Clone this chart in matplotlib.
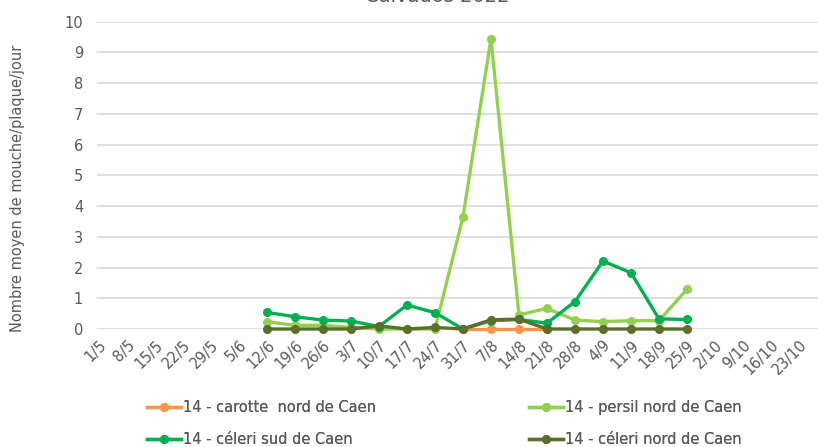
import numpy as np
import matplotlib
matplotlib.use("Agg")
import matplotlib.pyplot as plt

# ─────────────────────────────────────────────
# Data
# ─────────────────────────────────────────────
dates = ["1/5", "8/5", "15/5", "22/5", "29/5", "5/6", "12/6", "19/6", "26/6",
         "3/7", "10/7", "17/7", "24/7", "31/7", "7/8", "14/8", "21/8", "28/8",
         "4/9", "11/9", "18/9", "25/9", "2/10", "9/10", "16/10", "23/10"]

# observed weeks: 12/6 .. 25/9
obs_dates = dates[6:22]

carotte_dates = ["31/7", "7/8", "14/8", "21/8"]
carotte_nord = [0, 0, 0, 0]

persil_nord = [0.24, 0.12, 0.12, 0.05, 0.0, 0.0, 0.0, 3.64, 9.44, 0.46,
               0.67, 0.29, 0.24, 0.27, 0.27, 1.29]
celeri_sud = [0.54, 0.40, 0.29, 0.26, 0.08, 0.78, 0.53, 0.0, 0.27, 0.31,
              0.19, 0.89, 2.21, 1.83, 0.33, 0.31]
celeri_nord = [0.0, 0.0, 0.0, 0.0, 0.10, 0.0, 0.05, 0.0, 0.30, 0.32,
               0.0, 0.0, 0.0, 0.0, 0.0, 0.0]

series = [
    ("14 - carotte  nord de Caen", carotte_dates, carotte_nord, "#F79646"),
    ("14 - persil nord de Caen", obs_dates, persil_nord, "#92D050"),
    ("14 - céleri sud de Caen", obs_dates, celeri_sud, "#00B050"),
    ("14 - céleri nord de Caen", obs_dates, celeri_nord, "#5B6E2B"),
]

GREY = "#595959"
FS = 10.5

fig = plt.figure(figsize=(8.18, 4.47), dpi=100)
ax = fig.add_axes([97 / 818, 1 - 329 / 447, 1 - 97 / 818, (329 - 21.7) / 447])

pos = {d: i for i, d in enumerate(dates)}
for label, xs, ys, color in series:
    x = [pos[d] for d in xs]
    ax.plot(x, ys, color=color, lw=2.4, marker="o", ms=5.5, label=label,
            clip_on=False, zorder=3)

ax.set_xlim(-0.07, 25.68)
ax.set_ylim(0, 10)
ax.set_yticks(range(0, 11))
ax.set_xticks(range(len(dates)))
ax.set_xticklabels(dates, rotation=45, ha="right", rotation_mode="anchor")
ax.tick_params(axis="both", length=0, labelsize=FS, colors=GREY)
ax.tick_params(axis="x", pad=6)
ax.tick_params(axis="y", pad=10)
ax.grid(axis="y", color="#D9D9D9", lw=1.2)
ax.set_axisbelow(True)
for s in ax.spines.values():
    s.set_visible(False)

fig.text(18 / 818, 1 - 188 / 447, "Nombre moyen de mouche/plaque/jour",
         rotation=90, ha="center", va="center", fontsize=FS, color=GREY)

# title is mostly cropped out at the top of the picture
fig.text(437 / 818, 1 - 2.5 / 447, "Calvados 2022", ha="center", va="baseline",
         fontsize=14, color=GREY)

# legend: two columns, built as two separate legends
handles, labels = ax.get_legend_handles_labels()
for col, xpos in enumerate([147 / 818, 529 / 818]):
    leg = fig.legend([handles[col], handles[col + 2]],
                     [labels[col], labels[col + 2]],
                     loc="upper left", bbox_to_anchor=(xpos, 1 - 400 / 447),
                     frameon=False, fontsize=FS, labelcolor=GREY,
                     handlelength=2.3, handletextpad=0.2, labelspacing=1.2,
                     borderpad=0, borderaxespad=0)
    fig.add_artist(leg)

fig.savefig("out.png", dpi=100)
